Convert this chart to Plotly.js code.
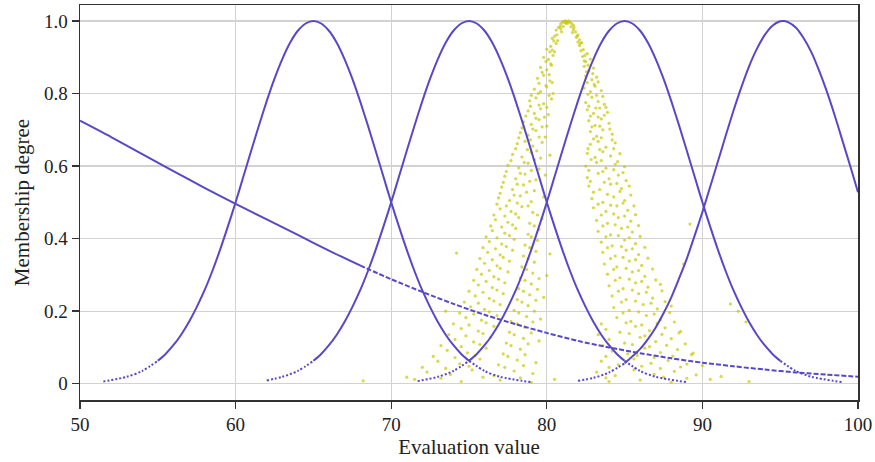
<!DOCTYPE html>
<html>
<head>
<meta charset="utf-8">
<script src="https://cdn.plot.ly/plotly-3.0.1.min.js"></script>
<style>html,body{margin:0;padding:0;background:#fff;}#chart{width:875px;height:462px;}</style>
</head>
<body>
<div id="chart"></div>
<script>
// ---- Membership curves ----
const curve1X = [51.5,53,54,55,55.5,56,56.5,57,57.5,58,58.5,59,59.5,60,60.5,61,61.5,62,62.5,63,63.5,64,64.5,65,65.5,66,66.5,67,67.5,68,68.5,69,69.5,70,70.5,71,71.5,72,72.5,73,73.5,74,74.5,75,76,77,79];
const curve1Y = [0.006,0.019,0.035,0.063,0.082,0.106,0.135,0.17,0.211,0.257,0.31,0.369,0.433,0.5,0.571,0.642,0.712,0.779,0.841,0.895,0.94,0.973,0.993,1.0,0.993,0.973,0.94,0.895,0.841,0.779,0.712,0.642,0.571,0.5,0.433,0.369,0.31,0.257,0.211,0.17,0.135,0.106,0.082,0.063,0.035,0.019,0.004];

const curve2X = [62,63,64,65,65.5,66,66.5,67,67.5,68,68.5,69,69.5,70,70.5,71,71.5,72,72.5,73,73.5,74,74.5,75,75.5,76,76.5,77,77.5,78,78.5,79,79.5,80,80.5,81,81.5,82,82.5,83,83.5,84,84.5,85,86,87,89];
const curve2Y = [0.009,0.019,0.035,0.063,0.082,0.106,0.135,0.17,0.211,0.257,0.31,0.369,0.433,0.5,0.571,0.642,0.712,0.779,0.841,0.895,0.94,0.973,0.993,1.0,0.993,0.973,0.94,0.895,0.841,0.779,0.712,0.642,0.571,0.5,0.433,0.369,0.31,0.257,0.211,0.17,0.135,0.106,0.082,0.063,0.035,0.019,0.004];

const curve3X = [71.7,73,74,75,75.5,76,76.5,77,77.5,78,78.5,79,79.5,80,80.5,81,81.5,82,82.5,83,83.5,84,84.5,85,85.5,86,86.5,87,87.5,88,88.5,89,89.5,90,90.5,91,91.5,92,92.5,93,93.5,94,94.5,95,96,97,99];
const curve3Y = [0.007,0.019,0.035,0.063,0.082,0.106,0.135,0.17,0.211,0.257,0.31,0.369,0.433,0.5,0.571,0.642,0.712,0.779,0.841,0.895,0.94,0.973,0.993,1.0,0.993,0.973,0.94,0.895,0.841,0.779,0.712,0.642,0.571,0.5,0.433,0.369,0.31,0.257,0.211,0.17,0.135,0.106,0.082,0.063,0.035,0.019,0.004];

const curve4X = [82,83,84,85,86,86.5,87,87.5,88,88.5,89,89.5,90,90.5,91,91.5,92,92.5,93,93.5,94,94.5,95,95.2,95.5,96,96.5,97,97.5,98,98.5,99,99.5,100];
const curve4Y = [0.008,0.016,0.031,0.056,0.096,0.123,0.155,0.194,0.238,0.29,0.345,0.408,0.473,0.543,0.613,0.684,0.753,0.817,0.875,0.923,0.961,0.987,0.999,1.0,0.997,0.982,0.953,0.914,0.863,0.805,0.74,0.67,0.6,0.528];

const lowX = [50,52,54,56,58,60,62,64,66,68];
const lowY = [0.725,0.68,0.633,0.586,0.54,0.496,0.453,0.41,0.367,0.326];
const lowTailX = [68,70,72,74,76,78,80,82,84,86,88,90,92,94,96,98,100];
const lowTailY = [0.326,0.288,0.253,0.22,0.19,0.164,0.14,0.118,0.1,0.084,0.07,0.058,0.048,0.039,0.031,0.025,0.019];

// ---- Evaluation samples (yellow cloud) ----
const sampleX = [
80.9,81.0,81.1,81.2,81.3,81.4,81.5,81.6,81.7,81.05,81.55,
80.6,80.75,80.9,81.7,81.85,82.0,
80.35,80.5,80.7,81.9,82.1,82.25,
80.0,80.25,80.5,82.1,82.35,82.6,
79.8,80.1,80.4,82.3,82.5,82.8,
79.6,80.0,80.3,82.4,82.7,83.0,
79.4,79.8,80.2,82.5,82.9,83.2,
79.2,79.6,80.0,80.4,82.4,82.8,83.1,83.5,
78.9,79.3,79.8,80.3,82.5,82.9,83.3,83.7,
78.8,79.2,79.6,80.1,82.6,83.0,83.4,83.9,
78.5,79.0,79.5,80.0,82.7,83.1,83.5,84.0,
78.3,78.8,79.3,79.9,82.8,83.2,83.6,84.2,
78.1,78.6,79.1,79.7,82.8,83.3,83.8,84.4,
77.8,78.4,79.0,79.6,80.2,82.6,83.1,83.6,84.1,84.7,
77.5,78.2,78.8,79.5,82.5,83.2,83.8,84.4,85.0,
77.3,78.0,78.6,79.3,79.9,82.6,83.3,84.0,84.6,
77.1,77.8,78.5,79.2,82.7,83.4,84.1,84.8,85.3,
76.9,77.6,78.3,79.0,79.8,82.9,83.6,84.3,85.0,
77.0,77.7,78.4,79.1,83.0,83.8,84.5,85.2,
76.7,77.5,78.2,78.9,79.7,83.2,83.9,84.6,85.4,
76.5,77.3,78.0,78.8,79.5,83.3,84.1,84.8,85.5,
76.3,77.1,77.9,78.6,79.4,83.5,84.2,85.0,85.7,
76.2,77.0,77.8,78.5,79.3,80.2,83.6,84.4,85.1,85.9,
76.0,76.8,77.6,78.4,79.2,83.7,84.5,85.3,86.1,
75.8,76.6,77.5,78.3,79.1,80.0,83.9,84.7,85.5,86.3,
75.6,76.5,77.3,78.2,79.0,84.0,84.9,85.7,86.5,87.3,
75.4,76.3,77.2,78.1,78.9,79.8,84.2,85.1,85.9,86.8,
75.1,76.0,77.0,77.9,78.8,84.3,85.3,86.2,87.1,88.0,
74.8,75.8,76.8,77.7,78.7,79.6,84.5,85.4,86.4,87.3,
74.5,75.6,76.6,77.6,78.6,83.8,84.7,85.7,86.6,87.6,88.6,
74.1,75.3,76.4,77.4,78.5,79.5,84.0,85.0,86.0,87.0,88.0,
73.6,74.9,76.1,77.2,78.3,84.2,85.2,86.3,87.3,88.4,89.4,
73.0,74.4,75.7,76.9,78.1,79.3,83.5,84.6,85.6,86.7,87.8,89.0,
72.3,73.8,75.2,76.6,77.9,79.1,83.2,84.4,85.6,86.9,88.2,89.6,
68.2,71.5,74.5,77.0,79.0,80.5,84.0,86.0,88.0,90.5,93.0,
92.3,92.8,91.8,88.8,89.2,73.5,74.2
];
const sampleY = [
0.992,0.997,0.999,1.0,0.998,1.0,0.997,0.993,0.988,0.985,0.984,
0.975,0.982,0.978,0.976,0.97,0.962,
0.952,0.958,0.946,0.955,0.948,0.94,
0.922,0.93,0.915,0.932,0.921,0.91,
0.9,0.894,0.905,0.902,0.888,0.895,
0.872,0.865,0.878,0.875,0.862,0.87,
0.842,0.85,0.835,0.848,0.838,0.845,
0.812,0.805,0.818,0.8,0.815,0.805,0.82,0.808,
0.78,0.788,0.772,0.785,0.775,0.79,0.778,0.77,
0.752,0.745,0.758,0.742,0.755,0.745,0.76,0.748,
0.722,0.715,0.728,0.71,0.725,0.712,0.73,0.718,
0.692,0.685,0.698,0.68,0.695,0.682,0.7,0.688,
0.662,0.668,0.655,0.665,0.66,0.668,0.652,0.664,
0.632,0.625,0.638,0.622,0.63,0.635,0.624,0.64,0.628,0.634,
0.602,0.595,0.608,0.592,0.6,0.61,0.594,0.605,0.598,
0.572,0.565,0.578,0.562,0.575,0.568,0.58,0.565,0.575,
0.542,0.535,0.548,0.532,0.545,0.535,0.55,0.538,0.545,
0.512,0.505,0.518,0.502,0.515,0.51,0.5,0.515,0.505,
0.482,0.475,0.488,0.472,0.485,0.475,0.49,0.478,
0.452,0.445,0.458,0.442,0.455,0.45,0.442,0.458,0.448,
0.422,0.415,0.428,0.412,0.425,0.42,0.41,0.428,0.418,
0.392,0.385,0.398,0.382,0.395,0.39,0.38,0.396,0.386,
0.362,0.355,0.368,0.352,0.365,0.358,0.362,0.352,0.368,0.356,
0.332,0.325,0.338,0.322,0.335,0.33,0.322,0.338,0.326,
0.302,0.295,0.308,0.292,0.305,0.298,0.302,0.292,0.308,0.296,
0.272,0.265,0.278,0.262,0.275,0.27,0.262,0.278,0.266,0.274,
0.242,0.235,0.248,0.232,0.245,0.238,0.242,0.232,0.248,0.236,
0.212,0.205,0.218,0.202,0.215,0.21,0.202,0.218,0.206,0.214,
0.182,0.175,0.188,0.172,0.185,0.178,0.182,0.172,0.188,0.176,
0.152,0.145,0.158,0.142,0.155,0.15,0.142,0.158,0.146,0.154,0.144,
0.122,0.115,0.128,0.112,0.125,0.118,0.122,0.112,0.128,0.116,0.124,
0.092,0.085,0.098,0.082,0.095,0.09,0.082,0.098,0.086,0.094,0.084,
0.062,0.055,0.068,0.052,0.065,0.058,0.062,0.052,0.068,0.056,0.064,0.054,
0.032,0.025,0.038,0.022,0.035,0.028,0.032,0.022,0.038,0.026,0.034,0.024,
0.008,0.012,0.006,0.01,0.004,0.012,0.006,0.01,0.004,0.012,0.006,
0.2,0.17,0.22,0.33,0.44,0.2,0.36
];
const sampleX2 = [
81.15,81.25,81.35,80.85,81.75,80.95,81.65,80.65,81.95,80.45,82.15,80.6,82.0,80.2,82.45,80.35,82.2,79.95,80.25,82.4,82.65,79.7,80.15,82.55,82.95,79.5,79.95,80.35,82.6,83.05,83.3,
79.0,79.45,80.15,82.65,83.2,83.6,
78.95,79.5,80.0,82.7,83.15,83.8,
78.65,79.3,79.85,82.8,83.3,83.7,
78.4,79.1,79.7,82.9,83.4,84.05,
78.2,78.95,79.5,83.0,83.5,84.2,
78.0,78.75,79.35,82.65,83.4,84.3,
77.7,78.55,79.2,82.85,83.5,84.55,
77.4,78.3,79.0,82.7,83.6,84.3,84.9,
77.2,78.1,78.9,82.8,83.7,84.5,85.1,
77.0,77.9,78.7,83.0,83.9,84.7,85.4,
76.8,77.4,78.1,78.8,83.3,84.1,84.9,85.6,
76.6,77.3,78.0,79.4,83.5,84.3,85.0,85.7,
76.4,77.1,77.8,79.2,83.6,84.4,85.2,85.9,
76.1,76.8,77.6,79.0,83.8,84.6,85.3,86.0,
75.9,76.7,77.4,78.9,83.9,84.8,85.5,86.3,
75.7,76.5,77.2,78.8,84.1,84.9,85.7,86.5,
75.5,76.3,77.0,78.7,84.3,85.1,85.9,86.8,
75.3,76.1,76.9,78.6,79.5,84.4,85.3,86.1,87.0,
75.0,75.9,76.8,78.5,79.4,84.6,85.5,86.4,87.4,
74.7,75.6,76.6,78.4,79.3,84.8,85.7,86.7,87.6,
74.4,75.3,76.3,78.2,79.2,84.9,85.9,86.9,87.9,
74.0,75.0,76.1,78.1,79.1,83.5,85.1,86.1,87.1,88.2,
73.7,74.8,75.9,77.9,79.0,83.3,85.3,86.3,87.4,88.5,
73.2,74.5,75.7,77.7,78.8,83.6,85.5,86.6,87.7,88.9,
72.7,74.1,75.4,77.5,78.6,83.8,85.8,86.9,88.1,89.3,
72.0,73.5,75.0,77.3,78.5,84.0,86.1,87.3,88.6,90.0,
71.0,73.2,75.9,78.3,83.8,87.5,89.0,91.2
];
const sampleY2 = [
0.995,0.993,0.994,0.985,0.982,0.97,0.968,0.962,0.958,0.945,0.938,0.938,0.942,0.915,0.905,0.92,0.918,0.888,0.882,0.89,0.878,0.858,0.852,0.86,0.855,0.828,0.822,0.83,0.83,0.825,0.832,
0.795,0.8,0.795,0.798,0.795,0.792,
0.765,0.768,0.762,0.765,0.76,0.762,
0.738,0.732,0.735,0.738,0.735,0.74,
0.705,0.702,0.708,0.708,0.71,0.702,
0.678,0.672,0.68,0.675,0.678,0.672,
0.648,0.645,0.642,0.648,0.645,0.648,
0.615,0.61,0.618,0.618,0.615,0.612,
0.585,0.58,0.588,0.588,0.585,0.59,0.582,
0.555,0.55,0.558,0.558,0.555,0.552,0.56,
0.525,0.52,0.528,0.528,0.522,0.53,0.52,
0.495,0.49,0.498,0.49,0.495,0.492,0.498,0.49,
0.465,0.462,0.468,0.465,0.465,0.468,0.462,0.466,
0.435,0.432,0.438,0.435,0.435,0.438,0.432,0.436,
0.405,0.402,0.408,0.405,0.405,0.408,0.402,0.406,
0.375,0.372,0.378,0.375,0.375,0.378,0.372,0.376,
0.345,0.342,0.348,0.345,0.345,0.348,0.342,0.346,
0.315,0.312,0.318,0.315,0.315,0.318,0.312,0.316,
0.285,0.282,0.288,0.285,0.29,0.285,0.288,0.282,0.286,
0.255,0.252,0.258,0.255,0.26,0.255,0.258,0.252,0.256,
0.225,0.222,0.228,0.225,0.23,0.225,0.228,0.222,0.226,
0.195,0.192,0.198,0.195,0.2,0.195,0.198,0.192,0.196,
0.165,0.162,0.168,0.165,0.17,0.165,0.168,0.162,0.166,0.17,
0.135,0.132,0.138,0.135,0.14,0.135,0.138,0.132,0.136,0.14,
0.105,0.102,0.108,0.105,0.11,0.105,0.108,0.102,0.106,0.11,
0.075,0.072,0.078,0.075,0.08,0.075,0.078,0.072,0.076,0.08,
0.045,0.042,0.048,0.045,0.05,0.045,0.048,0.042,0.046,0.05,
0.018,0.015,0.018,0.016,0.016,0.018,0.015,0.02
];

const xTicks = [50,60,70,80,90,100];
const yTicks = [0,0.2,0.4,0.6,0.8,1.0];
const yTickText = ['0','0.2','0.4','0.6','0.8','1.0'];

const BLUE = 'rgb(88,72,200)';
const YELLOW = 'rgba(200,200,0,0.7)';

function lineTrace(x, y, dash) {
  return {x: x, y: y, type: 'scatter', mode: 'lines',
    line: {color: BLUE, width: 2, shape: 'spline', smoothing: 0.8, dash: dash || 'solid'},
    hoverinfo: 'x+y', showlegend: false};
}
// each bell curve: solid body, dotted tails where it runs along zero
function bell(x, y) {
  const out = [];
  const th = 0.04;
  let first = y.findIndex(v => v >= th);
  let last = y.length - 1 - [...y].reverse().findIndex(v => v >= th);
  out.push(lineTrace(x.slice(0, first + 1), y.slice(0, first + 1), '2px,2px'));
  out.push(lineTrace(x.slice(first, last + 1), y.slice(first, last + 1)));
  out.push(lineTrace(x.slice(last), y.slice(last), '2px,2px'));
  return out;
}

const traces = [
  {x: sampleX, y: sampleY, type: 'scatter', mode: 'markers',
   marker: {color: YELLOW, size: 3.2}, showlegend: false},
  {x: sampleX2, y: sampleY2, type: 'scatter', mode: 'markers',
   marker: {color: YELLOW, size: 3.2}, showlegend: false},
  ...bell(curve1X, curve1Y),
  ...bell(curve2X, curve2Y),
  ...bell(curve3X, curve3Y),
  ...bell(curve4X, curve4Y),
  lineTrace(lowX, lowY),
  lineTrace(lowTailX, lowTailY, '5px,2px')
];

const font = {family: '"Liberation Serif", "DejaVu Serif", serif', color: '#222'};

const layout = {
  width: 875, height: 462,
  margin: {l: 80, r: 17, t: 5, b: 62},
  paper_bgcolor: '#fff', plot_bgcolor: '#fff',
  font: Object.assign({size: 18}, font),
  showlegend: false,
  xaxis: {
    range: [50, 100], tickvals: xTicks, ticktext: xTicks.map(String),
    showgrid: true, gridcolor: '#d2d2d2', gridwidth: 1.2, zeroline: false,
    showline: true, linecolor: '#333', linewidth: 1.5, mirror: true,
    ticks: 'outside', ticklen: 7, tickcolor: '#333', tickwidth: 1.3,
    tickfont: Object.assign({size: 19}, font),
    title: {text: 'Evaluation value', font: Object.assign({size: 21}, font), standoff: 2}
  },
  yaxis: {
    range: [-0.045, 1.044], tickvals: yTicks, ticktext: yTickText,
    showgrid: true, gridcolor: '#d2d2d2', gridwidth: 1.2, zeroline: false,
    showline: true, linecolor: '#333', linewidth: 1.5, mirror: true,
    ticks: 'outside', ticklen: 7, tickcolor: '#333', tickwidth: 1.3,
    tickfont: Object.assign({size: 19}, font),
    title: {text: 'Membership degree', font: Object.assign({size: 21}, font), standoff: 8}
  }
};

Plotly.newPlot('chart', traces, layout, {staticPlot: true, displayModeBar: false});
</script>
</body>
</html>
